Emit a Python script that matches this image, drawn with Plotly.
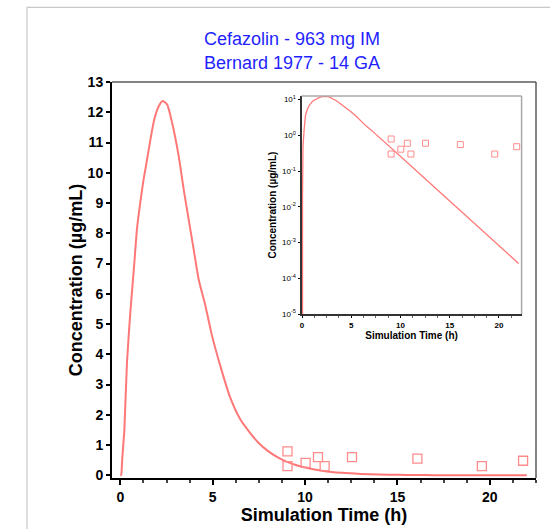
import plotly.graph_objects as go

# Simulated plasma concentration
sim_time = [0, 0.02, 0.05, 0.1, 0.16, 0.22, 0.36, 0.54, 0.76, 0.9, 1.08, 1.26, 1.45, 1.63,
            1.84, 2.08, 2.29, 2.53, 2.8, 3.16, 3.43, 3.7, 3.97, 4.24, 4.61, 4.97, 5.42, 5.93,
            6.5, 7.0, 7.5, 8.0, 8.5, 9.0, 9.5, 10, 11, 12, 13, 14, 15, 16, 17, 18, 19, 20, 21, 22]
sim_conc = [0, 1e-6, 0.02, 0.5, 1.0, 1.51, 3.72, 5.37, 7.03, 8.13, 9.01, 9.78, 10.44, 11.1,
            11.77, 12.2, 12.37, 12.26, 11.66, 10.55, 9.45, 8.46, 7.47, 6.48, 5.59, 4.6, 3.6, 2.6,
            1.84, 1.42, 1.06, 0.80, 0.60, 0.45, 0.34, 0.26, 0.145, 0.082, 0.046, 0.026, 0.015,
            0.0083, 0.0047, 0.0026, 0.0015, 0.00083, 0.00047, 0.00026]

# Observed data (Bernard 1977)
obs_time = [9.05, 9.05, 10.03, 10.7, 11.06, 12.54, 16.08, 19.57, 21.8]
obs_conc = [0.79, 0.30, 0.41, 0.60, 0.30, 0.60, 0.55, 0.30, 0.48]

main_xticks = [0, 5, 10, 15, 20]
main_yticks = list(range(0, 14))
log_ticks = [1e-5, 1e-4, 1e-3, 1e-2, 1e-1, 1, 10]
log_ticktext = ["10<sup>-5</sup>", "10<sup>-4</sup>", "10<sup>-3</sup>", "10<sup>-2</sup>",
                "10<sup>-1</sup>", "10<sup>0</sup>", "10<sup>1</sup>"]

LINE_C = "#ff7878"
MARK_C = "#ff8c8c"
FONT = "Liberation Sans, Arial, sans-serif"

fig = go.Figure()
fig.add_trace(go.Scatter(x=sim_time, y=sim_conc, mode="lines",
                         line=dict(color=LINE_C, width=2, shape="spline", smoothing=0.6),
                         xaxis="x", yaxis="y", showlegend=False, hoverinfo="skip"))
fig.add_trace(go.Scatter(x=obs_time, y=obs_conc, mode="markers",
                         marker=dict(symbol="square-open", size=9, color=MARK_C,
                                     line=dict(width=1.3, color=MARK_C)),
                         xaxis="x", yaxis="y", showlegend=False))
fig.add_trace(go.Scatter(x=sim_time, y=sim_conc, mode="lines",
                         line=dict(color=LINE_C, width=1.3), xaxis="x2", yaxis="y2",
                         showlegend=False, hoverinfo="skip"))
fig.add_trace(go.Scatter(x=obs_time, y=obs_conc, mode="markers",
                         marker=dict(symbol="square-open", size=6, color=MARK_C,
                                     line=dict(width=1, color=MARK_C)),
                         xaxis="x2", yaxis="y2", showlegend=False))

fig.update_layout(
    width=550, height=529,
    margin=dict(l=112, r=14, t=82, b=51),
    paper_bgcolor="white", plot_bgcolor="white",
    font=dict(family=FONT, color="black"),
    title=dict(text="Cefazolin - 963 mg IM<br>Bernard 1977 - 14 GA",
               font=dict(size=18, color="#1f1fff", family=FONT),
               xref="container", x=0.531, xanchor="center",
               yref="container", y=0.914, yanchor="middle"),
    xaxis=dict(domain=[0, 1], range=[-0.45, 22.5], tickvals=main_xticks,
               ticks="outside", ticklen=5, tickwidth=1.5, tickcolor="black",
               showline=True, linecolor="black", linewidth=2,
               showgrid=False, zeroline=False, automargin=False,
               tickfont=dict(size=14, family=FONT, weight="bold"),
               minor=dict(dtick=1.25, tick0=0, ticks="outside", ticklen=3, tickcolor="#444"),
               title=dict(text="Simulation Time (h)", standoff=1,
                          font=dict(size=18, family=FONT, weight="bold"))),
    yaxis=dict(domain=[0, 1], range=[-0.09, 13.0], tickvals=main_yticks,
               ticks="outside", ticklen=4, tickwidth=1.5, tickcolor="black",
               showline=True, linecolor="black", linewidth=2,
               showgrid=False, zeroline=False, automargin=False,
               tickfont=dict(size=14, family=FONT, weight="bold"),
               title=dict(text="Concentration (µg/mL)", standoff=0,
                          font=dict(size=18, family=FONT, weight="bold"))),
    xaxis2=dict(domain=[0.447, 0.966], anchor="y2", range=[-0.05, 22.3],
                tickvals=main_xticks, ticks="outside", ticklen=2, tickwidth=1.2,
                tickcolor="black", showline=True, linecolor="#333", linewidth=2,
                showgrid=False, zeroline=False, automargin=False,
                tickfont=dict(size=8, family=FONT, weight="bold"),
                minor=dict(dtick=1.25, tick0=0, ticks="outside", ticklen=2, tickcolor="#666"),
                title=dict(text="Simulation Time (h)", standoff=0,
                           font=dict(size=10, family=FONT, weight="bold"))),
    yaxis2=dict(domain=[0.4141, 0.9646], anchor="x2", type="log", range=[-5, 1.1],
                tickvals=log_ticks, ticktext=log_ticktext,
                ticks="outside", ticklen=2, tickwidth=1.2, tickcolor="black",
                showline=True, linecolor="#333", linewidth=2,
                showgrid=False, zeroline=False, automargin=False,
                tickfont=dict(size=8, family=FONT),
                title=dict(text="Concentration (µg/mL)", standoff=4,
                           font=dict(size=10, family=FONT, weight="bold"))),
    shapes=[
        # outer light frame
        dict(type="rect", xref="paper", yref="paper", x0=-0.2005, x1=1.06, y0=-0.16, y1=1.1885,
             line=dict(color="#c8c8c8", width=1.2), fillcolor="rgba(0,0,0,0)", layer="below"),
        # main plot top/right edges
        dict(type="line", xref="paper", yref="paper", x0=0, x1=1, y0=1, y1=1,
             line=dict(color="#5a5a5a", width=1.5)),
        dict(type="line", xref="paper", yref="paper", x0=1, x1=1, y0=0, y1=1,
             line=dict(color="#5a5a5a", width=1.5)),
        # inset top/right edges
        dict(type="line", xref="x2 domain", yref="y2 domain", x0=0, x1=1, y0=1, y1=1,
             line=dict(color="#a8a8a8", width=1.5)),
        dict(type="line", xref="x2 domain", yref="y2 domain", x0=1, x1=1, y0=0, y1=1,
             line=dict(color="#a8a8a8", width=1.5)),
    ],
)

fig.write_html("out.html")
